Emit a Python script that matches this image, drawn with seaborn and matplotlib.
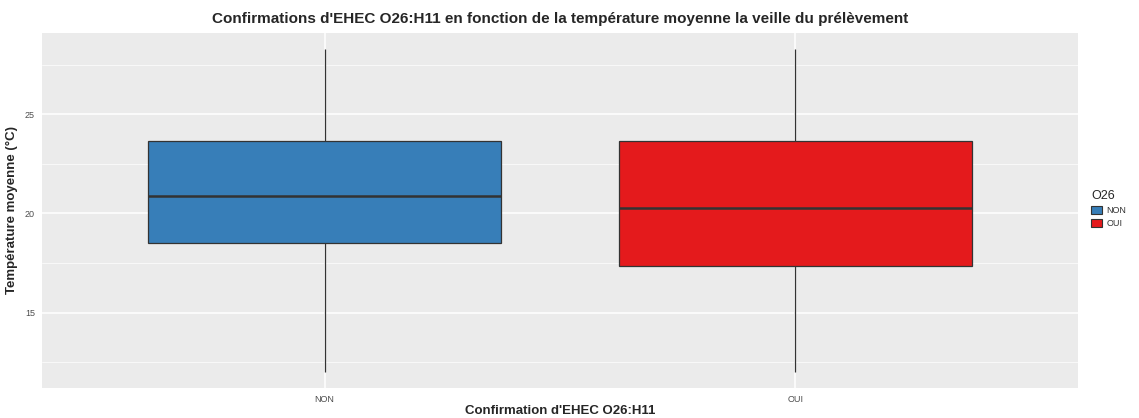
import matplotlib
matplotlib.use("Agg")
import matplotlib.pyplot as plt
from matplotlib.patches import Patch
from matplotlib.ticker import MultipleLocator
import pandas as pd
import seaborn as sns

# five-number summaries (min, Q1, median, Q3, max)
categories = ["NON", "OUI"]
non_values = [12.0, 18.5, 20.9, 23.65, 28.3]
oui_values = [12.0, 17.35, 20.3, 23.65, 28.3]
palette = {"NON": "#377EB8", "OUI": "#E41A1C"}

df = pd.DataFrame({
    "O26": ["NON"] * len(non_values) + ["OUI"] * len(oui_values),
    "temp": non_values + oui_values,
})

sns.set_theme(style="darkgrid")
plt.rcParams["font.family"] = ["Liberation Sans", "DejaVu Sans"]

fig = plt.figure(figsize=(11.39, 4.18), dpi=100)
ax = fig.add_axes([42 / 1139, 1 - 388 / 418, 1036 / 1139, 355 / 418])
ax.set_facecolor("#EBEBEB")

sns.boxplot(
    data=df, x="O26", y="temp", hue="O26", order=categories, palette=palette,
    width=0.75, whis=float("inf"), saturation=1, showcaps=False,
    linecolor="#333333", linewidth=0.9,
    medianprops={"linewidth": 1.8, "color": "#333333"},
    legend=False, ax=ax,
)

ax.set_xlim(-0.6, 1.6)
ax.set_ylim(11.2, 29.1)
ax.yaxis.set_major_locator(MultipleLocator(5))
ax.yaxis.set_minor_locator(MultipleLocator(2.5))
ax.grid(which="major", color="white", linewidth=1.1)
ax.grid(which="minor", axis="y", color="white", linewidth=0.5)
ax.set_axisbelow(True)
for s in ax.spines.values():
    s.set_visible(False)

ax.tick_params(axis="both", which="major", length=3, width=0.6, color="#333333",
               labelsize=6.5, labelcolor="#4D4D4D", pad=2)
ax.tick_params(axis="y", which="minor", length=0)

ax.set_title("Confirmations d'EHEC O26:H11 en fonction de la température moyenne la veille du prélèvement",
             fontsize=11, fontweight="bold", pad=7)
ax.set_xlabel("Confirmation d'EHEC O26:H11", fontsize=9.5, fontweight="bold", labelpad=1)
ax.set_ylabel("Température moyenne (°C)", fontsize=9.5, fontweight="bold", labelpad=5)

handles = [Patch(facecolor=palette[c], edgecolor="#333333", linewidth=0.8, label=c) for c in categories]
leg = fig.legend(handles=handles, title="O26", loc="center left",
                 bbox_to_anchor=(1083 / 1139, 0.5), frameon=False,
                 fontsize=6.5, title_fontsize=9, handlelength=1.2, handleheight=1.0,
                 labelspacing=0.4, handletextpad=0.5)
leg._legend_box.align = "left"
for t in leg.get_texts():
    t.set_color("#333333")

fig.savefig("out.png", dpi=100)
